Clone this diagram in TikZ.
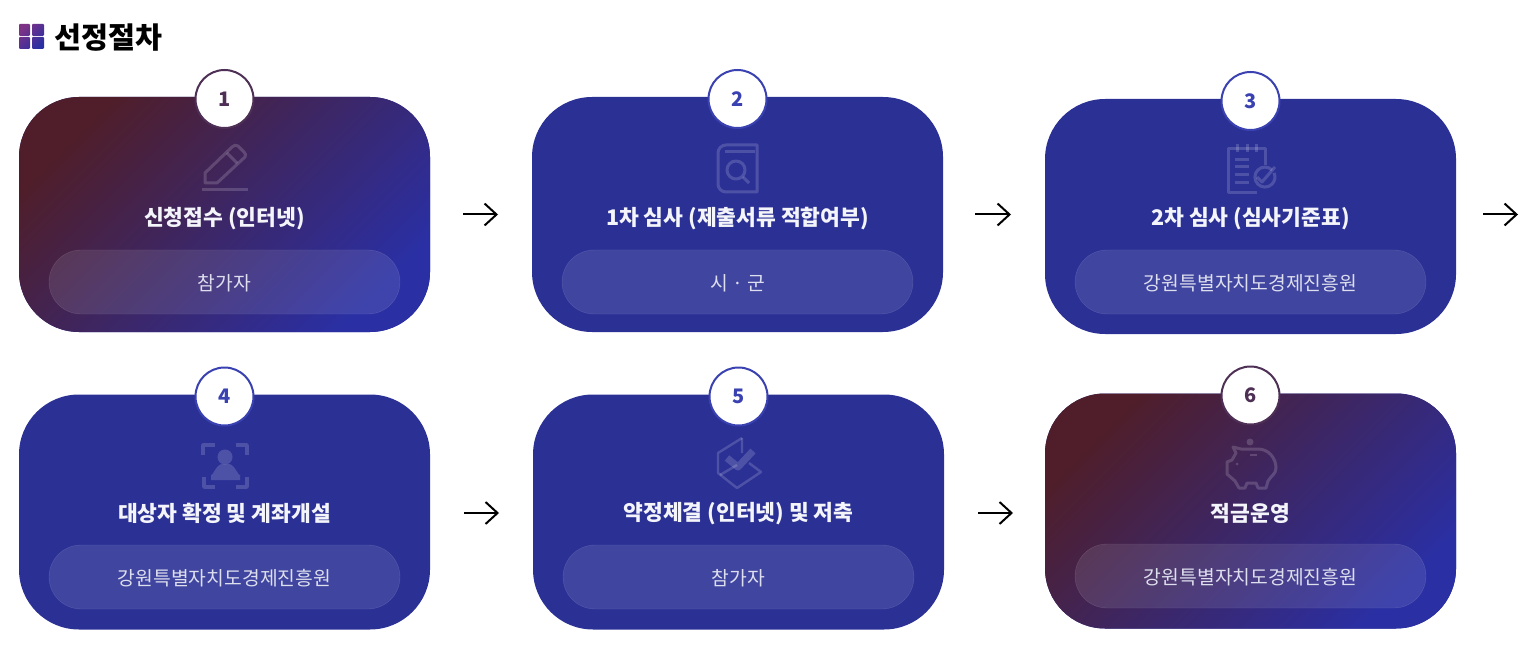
\documentclass[tikz,border=0pt]{standalone}
\usepackage{fontspec}
\setmainfont{Noto Sans CJK KR}
\usetikzlibrary{arrows.meta, positioning}

\definecolor{deepblue}{HTML}{2B3095}
\definecolor{deepred}{HTML}{4F1E2A}
\definecolor{midplum}{HTML}{3B2D6C}
\definecolor{endblue}{HTML}{2A2FA3}
\definecolor{ringblue}{HTML}{3A41B0}
\definecolor{ringplum}{HTML}{4E2F55}
\definecolor{headplum}{HTML}{7E3285}

\begin{document}
\begin{tikzpicture}[
        x=1pt, y=-1pt,
        node distance=62pt and 102pt,
        card/.style={
            rectangle,
            rounded corners=60pt,
            minimum width=411pt,
            minimum height=235pt,
            inner sep=0pt, outer sep=0pt,
            fill=deepblue
        },
        gradcard/.style={
            card,
            top color=deepred,
            middle color=midplum,
            bottom color=endblue,
            shading angle=45
        },
        pillbox/.style={
            rectangle,
            rounded corners=32pt,
            minimum width=351pt,
            minimum height=64pt,
            inner sep=0pt, outer sep=0pt,
            fill=white, fill opacity=.1,
            draw=white, draw opacity=.14,
            text opacity=1,
            text=white!84!deepblue,
            text height=19pt, text depth=3pt,
            font=\fontsize{19.3}{23}\selectfont
        },
        cardtitle/.style={
            font=\fontsize{21.5}{25}\selectfont\bfseries,
            text=white!95!deepblue,
            inner sep=0pt
        },
        badge/.style={
            circle,
            minimum size=58pt,
            inner sep=0pt, outer sep=0pt,
            fill=white,
            draw=ringblue,
            line width=2pt,
            text=ringblue,
            font=\fontsize{20}{24}\selectfont\bfseries
        },
        gradbadge/.style={
            badge,
            draw=ringplum,
            text=ringplum
        },
        arrow/.style={
            -{Straight Barb[length=12pt, width=22pt, line width=2pt]},
            line width=2pt,
            black
        },
        icon/.style={
            draw=white, draw opacity=.17,
            line width=3pt,
            line join=round
        },
        iconfill/.style={
            fill=white, fill opacity=.17
        }
    ]
    \useasboundingbox (0,0) rectangle (1530,652);

    % heading
    \path[top color=headplum, bottom color=endblue, shading angle=45, rounded corners=1pt]
        (19,24) rectangle (30,36) (32,24) rectangle (44,36)
        (19,37) rectangle (30,49) (32,37) rectangle (44,49);
    \node[anchor=west, inner sep=0pt, font=\fontsize{29.3}{34}\selectfont\bfseries] (heading) at (54,38) {선정절차};

    % cards
    \node[gradcard] (card1) at (224.5,214.5) {};
    \node[card, right=of card1] (card2) {};
    \node[card, right=of card2, yshift=-2pt] (card3) {};
    \node[card, below=62.5pt of card1] (card4) {};
    \node[card, right=103pt of card4] (card5) {};
    \node[gradcard, right=101pt of card5, yshift=1pt] (card6) {};

    % pills
    \node[pillbox, above=18pt of card1.south] (pill1) {참가자};
    \node[pillbox, above=18pt of card2.south] (pill2) {시 · 군};
    \node[pillbox, above=20pt of card3.south] (pill3) {강원특별자치도경제진흥원};
    \node[pillbox, above=20.5pt of card4.south] (pill4) {강원특별자치도경제진흥원};
    \node[pillbox, above=20.5pt of card5.south] (pill5) {참가자};
    \node[pillbox, above=20.5pt of card6.south] (pill6) {강원특별자치도경제진흥원};

    % titles
    \node[cardtitle] (title1) at ([yshift=31.5pt]pill1.north) {신청접수 (인터넷)};
    \node[cardtitle] (title2) at ([yshift=31pt]pill2.north) {1차 심사 (제출서류 적합여부)};
    \node[cardtitle] (title3) at ([yshift=31pt]pill3.north) {2차 심사 (심사기준표)};
    \node[cardtitle] (title4) at ([yshift=31.5pt]pill4.north) {대상자 확정 및 계좌개설};
    \node[cardtitle] (title5) at ([yshift=31.5pt]pill5.north) {약정체결 (인터넷) 및 저축};
    \node[cardtitle] (title6) at ([yshift=30.5pt]pill6.north) {적금운영};

    % number badges
    \node[gradbadge] (num1) at ([yshift=-2pt]card1.north) {1};
    \node[badge] (num2) at ([yshift=-2pt]card2.north) {2};
    \node[badge] (num3) at ([yshift=-2pt]card3.north) {3};
    \node[badge] (num4) at ([yshift=-2pt]card4.north) {4};
    \node[badge] (num5) at ([yshift=-2pt]card5.north) {5};
    \node[gradbadge] (num6) at ([yshift=-2pt]card6.north) {6};

    % arrows
    \draw[arrow, shorten <=33pt, shorten >=34pt] (card1.east) -- (card2.west);
    \draw[arrow, shorten <=32pt, shorten >=34pt] (card2.east) -- (card2.east -| card3.west);
    \coordinate (edge3) at ([yshift=2pt]card3.east -| 1518,0);
    \draw[arrow, shorten <=27pt] ([yshift=2pt]card3.east) -- (edge3);
    \draw[arrow, shorten <=34pt, shorten >=34pt] ([yshift=-1pt]card4.east) -- ([yshift=-1pt]card4.east -| card5.west);
    \draw[arrow, shorten <=34pt, shorten >=32pt] ([yshift=-1pt]card5.east) -- ([yshift=-1pt]card5.east -| card6.west);

    % icon: pen
    \draw[icon] (205,183) -- (205,173) -- (232,147) to[out=45, in=135] (238,146)
        -- (244,152) to[out=-45, in=45] (245,157) -- (217,183) -- cycle;
    \draw[icon] (227,153) -- (237,163);
    \draw[icon] (202,190) -- (248,190);

    % icon: book with magnifier
    \draw[icon] (757,145) -- (726,145) to[out=180, in=90] (718,153) -- (718,184)
        to[out=-90, in=180] (726,192) -- (757,192) -- cycle;
    \draw[icon] (725,152) -- (755,152);
    \draw[icon] (736,170) circle (9);
    \draw[icon] (743,177) -- (749,183);

    % icon: checklist
    \draw[icon] (1257,193) -- (1228,193) -- (1228,149) -- (1265,149) -- (1265,165);
    \draw[icon] (1237,144) -- (1237,152) (1247,144) -- (1247,152) (1256,144) -- (1256,152);
    \draw[icon] (1235,160) -- (1249,160) (1235,167) -- (1249,167) (1235,175) -- (1249,175) (1235,183) -- (1249,183);
    \draw[icon] (1272,170) arc[start angle=-45, end angle=-385, radius=10];
    \draw[icon] (1257,177) -- (1262,182) -- (1275,167);

    % icon: person in frame
    \draw[icon, line width=3.4pt] (203,455) -- (203,445) -- (215,445) (236,445) -- (247,445) -- (247,455);
    \draw[icon, line width=3.4pt] (204,477) -- (204,487) -- (215,487) (236,487) -- (247,487) -- (247,477);
    \fill[iconfill] (225,457) circle (7.5);
    \fill[iconfill] (211,480) -- (211,474) to[out=-90, in=180] (222,464) -- (229,464)
        to[out=0, in=-90] (240,474) -- (240,480) -- cycle;

    % icon: box with tick
    \draw[icon, line width=2.4pt] (742,438) -- (718,453) -- (718,473) -- (737,488) -- (761,472) -- (749,463);
    \draw[icon, line width=2.4pt] (742,438) -- (742,453) (720,475) -- (737,465);
    \draw[icon, line width=7pt] (727,458) -- (738,467) -- (753,451);

    % icon: piggy bank
    \fill[iconfill] (1250,442) circle (3.5);
    \draw[icon] (1233,447) -- (1241,449) -- (1258,449) to[out=0, in=90] (1276,468)
        to[out=-90, in=60] (1268,481) -- (1266,488) -- (1258,488) -- (1256,483) -- (1247,483)
        -- (1245,488) -- (1239,488) -- (1235,481) -- (1227,474) -- (1227,462) -- (1232,460)
        -- (1236,453) -- cycle;
    \fill[iconfill] (1237,464) circle (1.5);
    \draw[icon, line width=2.4pt] (1250,455) -- (1257,455);

\end{tikzpicture}
\end{document}
